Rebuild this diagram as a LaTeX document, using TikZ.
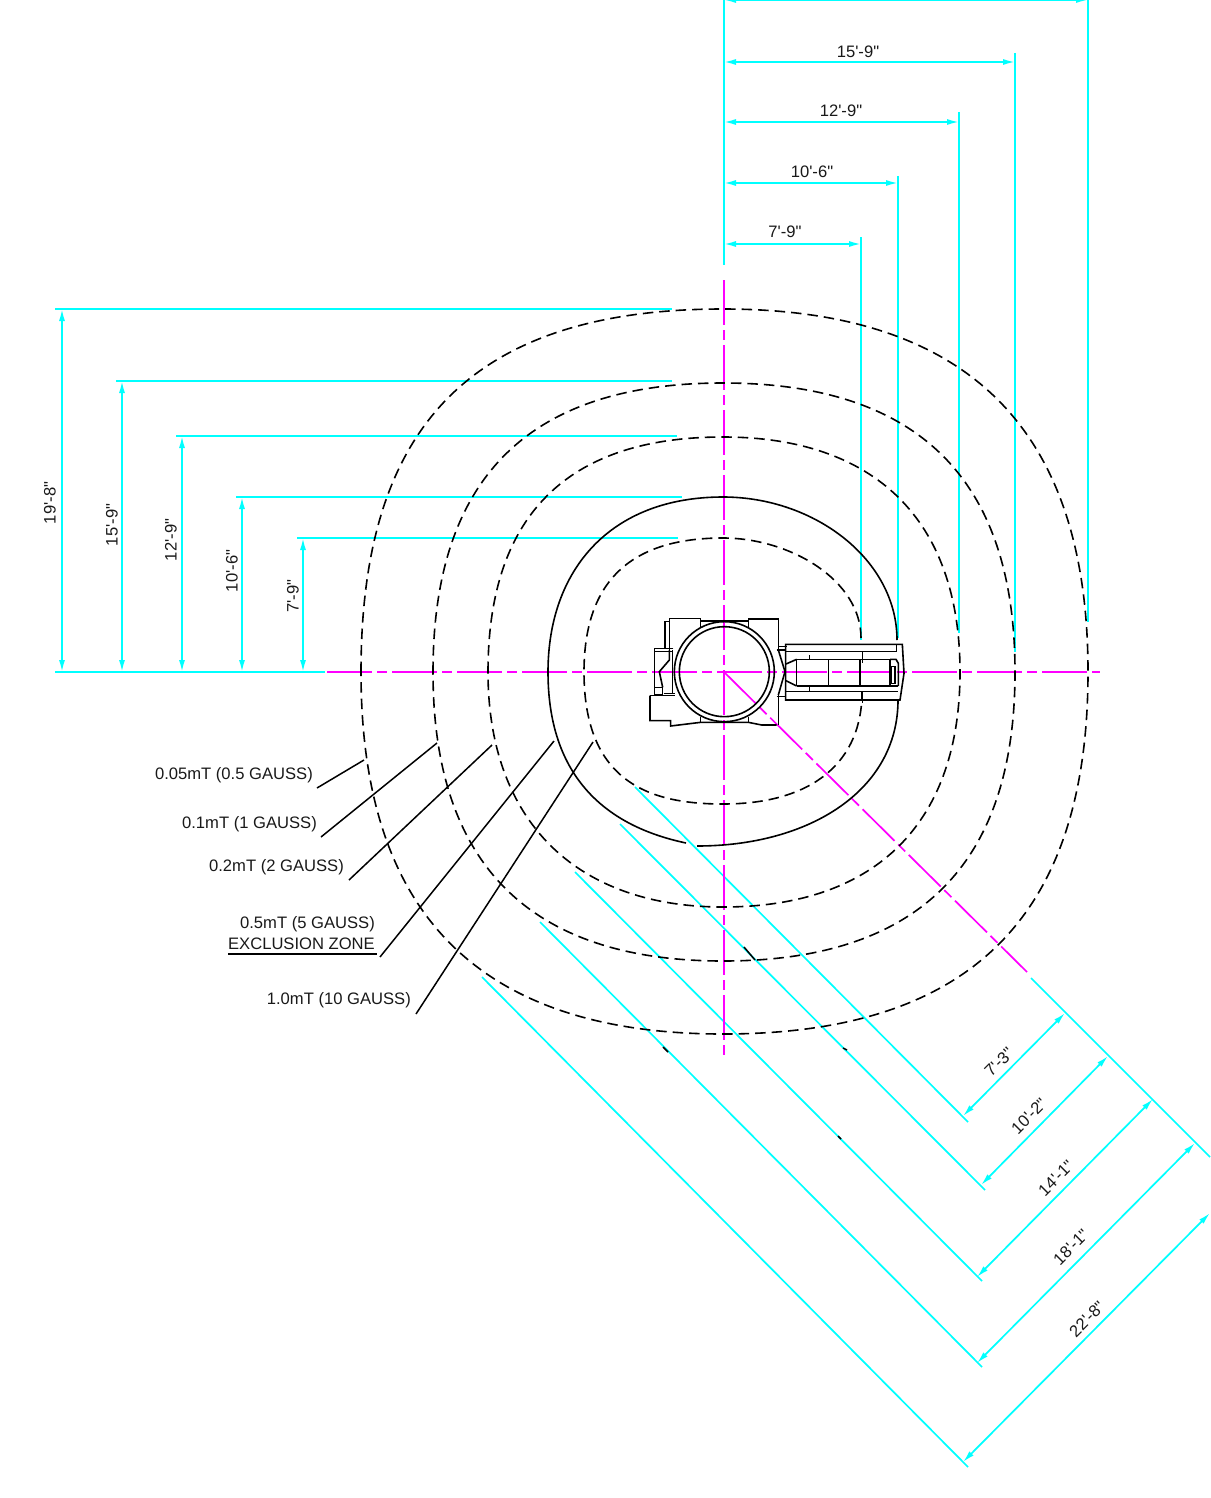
\documentclass[tikz,border=0pt]{standalone}
\usepackage{fontspec}
\newfontfamily\labfont{Liberation Sans}
\usetikzlibrary{arrows.meta}
\definecolor{cy}{RGB}{0,255,255}
\definecolor{mg}{RGB}{255,0,255}
\tikzset{
 cyanline/.style={cy,line width=1.7pt},
 dimline/.style={cyanline,{Latex[length=12pt,width=6pt]}-{Latex[length=12pt,width=6pt]}},
 centerline/.style={mg,line width=1.7pt,dash pattern=on 45pt off 5pt on 10pt off 5pt},
 contour/.style={black,line width=1.6pt,dash pattern=on 10.5pt off 6pt},
 solidcontour/.style={black,line width=1.6pt},
 leaderline/.style={black,line width=1.5pt},
 lab/.style={font=\labfont\fontsize{16.6}{18}\selectfont,inner sep=0pt,text=black!90},
 labr/.style={lab,anchor=east},
 mach/.style={black,line width=1.6pt},
}
\begin{document}
\begin{tikzpicture}[x=1pt,y=-1pt]
\useasboundingbox (0,0) rectangle (1210,1498);
% top dimensions
\draw[cyanline] (724,0)--(724,265);
\draw[dimline] (724,0)--(1088,0);
\draw[cyanline] (1088,0)--(1088,622);
\draw[dimline] (724,62)--(1015,62);
\draw[cyanline] (1015,53)--(1015,652);
\draw[dimline] (724,122)--(959,122);
\draw[cyanline] (959,112)--(959,633);
\draw[dimline] (724,183)--(898,183);
\draw[cyanline] (898,176)--(898,638);
\draw[dimline] (724,244)--(861,244);
\draw[cyanline] (861,237)--(861,640);
% left dimensions
\draw[cyanline] (55,672)--(325,672);
\draw[cyanline] (55,309)--(672,309);
\draw[cyanline] (116,381)--(672,381);
\draw[cyanline] (176,436)--(677,436);
\draw[cyanline] (236,497)--(682,497);
\draw[cyanline] (297,538)--(678,538);
\draw[dimline] (62,309)--(62,672);
\draw[dimline] (122,381)--(122,672);
\draw[dimline] (182,436)--(182,672);
\draw[dimline] (242,497)--(242,672);
\draw[dimline] (303,538)--(303,672);
% diagonal dimensions
\draw[cyanline] (1031,978)--(1210,1157);
\draw[cyanline] (635,787)--(968,1122);
\draw[cyanline] (620,824)--(985,1190);
\draw[cyanline] (575,872)--(982,1281);
\draw[cyanline] (540,922)--(982,1367);
\draw[cyanline] (482,977)--(968,1467);
\draw[dimline] (963,1116)--(1065,1013);
\draw[dimline] (981,1185)--(1108,1056);
\draw[dimline] (977,1277)--(1153,1099);
\draw[dimline] (977,1363)--(1195,1143);
\draw[dimline] (963,1462)--(1210,1213);
% centre lines
\draw[centerline] (724,280)--(724,1056);
\draw[centerline] (327,672)--(1100,672);
\draw[centerline] (724,672)--(1027,972);
% contours
\draw[contour] (361,672) .. controls (361,439) and (459,309) .. (723,309)
 .. controls (975,309) and (1088,436) .. (1088,672)
 .. controls (1088,917) and (970,1034) .. (723,1034)
 .. controls (443,1034) and (361,875) .. (361,672);
\draw[contour] (433,672) .. controls (433,465) and (542,383) .. (723,383)
 .. controls (920,383) and (1015,481) .. (1015,672)
 .. controls (1015,863) and (920,961) .. (723,961)
 .. controls (515,961) and (433,849) .. (433,672);
\draw[contour] (488,672) .. controls (488,489) and (596,437) .. (723,437)
 .. controls (874,437) and (960,519) .. (960,672)
 .. controls (960,820) and (879,907) .. (723,907)
 .. controls (575,907) and (488,820) .. (488,672);
\draw[solidcontour] (686,843) .. controls (615,828) and (548,785) .. (548,672)
 .. controls (548,570) and (610,497) .. (723,497)
 .. controls (815,497) and (897,560) .. (897,640);
\draw[solidcontour] (898,700) .. controls (898,790) and (810,846) .. (697,846);
\draw[contour] (861,638) .. controls (861,580) and (790,538) .. (723,538)
 .. controls (642,538) and (584,571) .. (584,672)
 .. controls (584,784) and (652,804) .. (723,804)
 .. controls (815,804) and (862,760) .. (862,692);
% stray marks of the drawing
\draw[leaderline] (744,947)--(755,960);
\draw[leaderline] (663,1047)--(668,1052);
\draw[leaderline] (843,1048)--(847,1050);
\draw[leaderline] (838,1136)--(841,1139);
% leaders
\draw[leaderline] (317,788)--(364,760);
\draw[leaderline] (321,837)--(437,743);
\draw[leaderline] (349,880)--(492,745);
\draw[leaderline] (380,957)--(554,741);
\draw[leaderline] (416,1014)--(593,742);
\draw[leaderline] (228,954)--(377,954);
% machine
\begin{scope}[shift={(630,600)},scale=1/3]
\draw[mach] (283,215) circle (150);
\draw[mach] (283,215) circle (135);
\draw[mach] (105,145)--(105,65)--(118,65);
\draw[mach] (212,85)--(212,55)--(118,55)--(118,150);
\draw[mach] (355,85)--(355,57)--(445,57)--(445,150);
\draw[mach] (212,63)--(355,63);
\draw[mach] (60,287)--(135,287);
\draw[mach] (60,287)--(60,362)--(122,362)--(122,378)--(212,367)--(355,367)--(395,375)--(440,375);
\draw[mach] (212,350)--(212,367) (355,350)--(355,367);
\draw[mach] (445,285)--(445,375);
\draw[mach] (130,145)--(73,145)--(73,285)--(98,285)--(98,262)--(73,262);
\draw[mach] (73,155)--(130,155);
\draw[mach] (103,280)--(135,280);
\draw[mach] (128,150)--(128,280);
\draw[mach] (118,150)--(118,180)--(88,215)--(98,262);
\draw[mach] (440,150)--(467,150) (440,290)--(467,290);
\draw[mach] (445,150)--(465,215)--(445,285);
\draw[mach] (467,133)--(817,133)--(822,220)--(810,300)--(467,300)--cycle;
\draw[mach] (467,155)--(800,155);
\draw[mach] (467,275)--(805,275);
\draw[mach] (500,178)--(780,178);
\draw[mach] (500,258)--(805,258);
\draw[mach] (500,178)--(500,258) (595,178)--(595,258) (690,178)--(690,258);
\draw[mach] (780,178)--(798,178)--(805,190)--(805,258);
\draw[mach] (800,133)--(800,155) (780,178)--(780,258);
\draw[mach] (468,192)--(500,178) (468,242)--(500,258);
\draw[mach] (785,200) rectangle (795,250);
\draw[mach] (697,155)--(697,190) (697,275)--(697,310);
\draw[mach] (538,165)--(538,178) (538,258)--(538,272);
\draw[mach] (448,140)--(470,140);
\end{scope}
% top labels
\node[lab] (t1) at (858,52) {15'-9"};
\node[lab] (t2) at (841,111) {12'-9"};
\node[lab] (t3) at (812,172) {10'-6"};
\node[lab] (t4) at (785,232) {7'-9"};
% left labels
\node[lab,rotate=90] (l1) at (50,503) {19'-8"};
\node[lab,rotate=90] (l2) at (112,525) {15'-9"};
\node[lab,rotate=90] (l3) at (171,540) {12'-9"};
\node[lab,rotate=90] (l4) at (232,571) {10'-6"};
\node[lab,rotate=90] (l5) at (293,596) {7'-9"};
% diagonal labels
\node[lab,rotate=45] (d1) at (999,1062) {7'-3"};
\node[lab,rotate=45] (d2) at (1029,1116) {10'-2"};
\node[lab,rotate=45] (d3) at (1056,1178) {14'-1"};
\node[lab,rotate=45] (d4) at (1071,1247) {18'-1"};
\node[lab,rotate=45] (d5) at (1087,1319) {22'-8"};
% field labels
\node[labr] (f1) at (313,775) {0.05mT (0.5 GAUSS)};
\node[labr] (f2) at (317,824) {0.1mT (1 GAUSS)};
\node[labr] (f3) at (344,867) {0.2mT (2 GAUSS)};
\node[labr] (f4) at (375,924) {0.5mT (5 GAUSS)};
\node[labr] (f5) at (375,944) {EXCLUSION ZONE};
\node[labr] (f6) at (411,1000) {1.0mT (10 GAUSS)};
\end{tikzpicture}
\end{document}
